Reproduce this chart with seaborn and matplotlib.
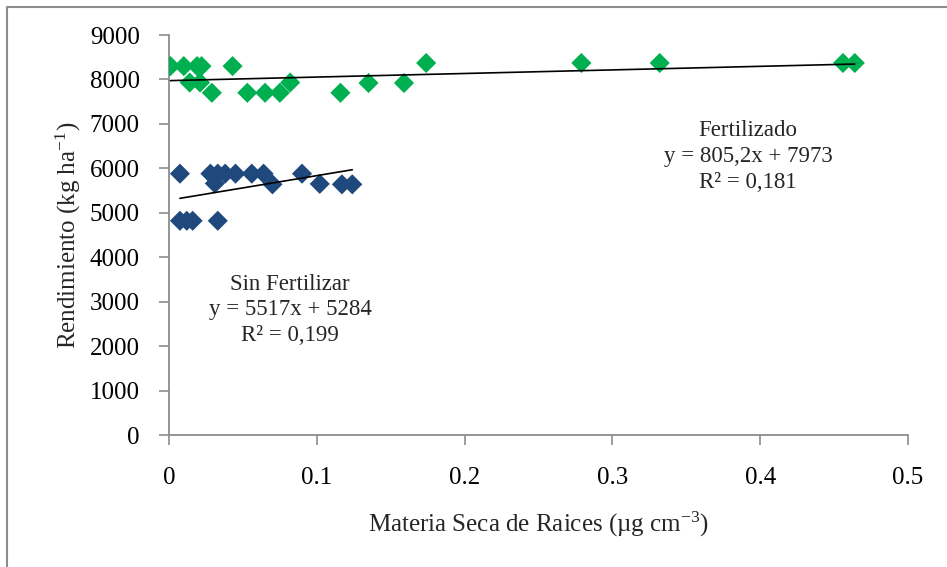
import numpy as np
import pandas as pd
import matplotlib
matplotlib.use("Agg")
import matplotlib.pyplot as plt
from matplotlib.lines import Line2D
import seaborn as sns

# Fertilized plots: root dry matter (µg cm-3) vs. yield (kg/ha)
fert_x = [0.001, 0.010, 0.019, 0.022, 0.043, 0.014, 0.021, 0.082,
          0.029, 0.053, 0.065, 0.075, 0.116, 0.135, 0.159, 0.174,
          0.279, 0.332, 0.456, 0.464]
fert_y = [8300, 8300, 8300, 8300, 8300, 7930, 7930, 7930,
          7700, 7700, 7700, 7700, 7700, 7920, 7920, 8370,
          8370, 8370, 8370, 8370]

# Unfertilized plots
sinf_x = [0.0074, 0.028, 0.033, 0.038, 0.045, 0.056, 0.064, 0.090,
          0.031, 0.070, 0.102, 0.117, 0.124,
          0.0074, 0.012, 0.016, 0.033]
sinf_y = [5880, 5880, 5880, 5880, 5880, 5880, 5880, 5880,
          5660, 5640, 5650, 5640, 5640,
          4820, 4820, 4820, 4820]

# Linear fits (slope, intercept)
fert_fit = (805.2, 7973)
sinf_fit = (5517, 5284)

groups = ["Fertilizado", "Sin Fertilizar"]
colors = {"Fertilizado": "#00B050", "Sin Fertilizar": "#1F497D"}

x_ticks = [0, 0.1, 0.2, 0.3, 0.4, 0.5]
y_ticks = [0, 1000, 2000, 3000, 4000, 5000, 6000, 7000, 8000, 9000]

df = pd.DataFrame({
    "x": fert_x + sinf_x,
    "y": fert_y + sinf_y,
    "grupo": [groups[0]] * len(fert_x) + [groups[1]] * len(sinf_x),
})

sns.set_style("ticks")
plt.rcParams["font.family"] = ["Liberation Serif", "DejaVu Serif"]
plt.rcParams["mathtext.fontset"] = "custom"
plt.rcParams["mathtext.rm"] = "Liberation Serif"
plt.rcParams["mathtext.it"] = "Liberation Serif"

fig = plt.figure(figsize=(9.47, 5.67), dpi=100)
ax = fig.add_axes([169 / 947, 1 - 435 / 567, (908 - 169) / 947, (435 - 35) / 567])

sns.scatterplot(data=df, x="x", y="y", hue="grupo", palette=colors,
                marker="D", s=105, linewidth=0, legend=False, ax=ax, zorder=3)

# Trend lines over each group's data range
for xs, (m, b) in ((fert_x, fert_fit), (sinf_x, sinf_fit)):
    xx = np.array([min(xs), max(xs)])
    ax.plot(xx, m * xx + b, color="black", lw=1.2, zorder=4)

ax.set_xlim(0, 0.5)
ax.set_ylim(0, 9000)
ax.set_xticks(x_ticks)
ax.set_xticklabels([f"{t:g}" for t in x_ticks])
ax.set_yticks(y_ticks)

gray = "#8c8c8c"
for side in ("top", "right"):
    ax.spines[side].set_visible(False)
for side in ("left", "bottom"):
    ax.spines[side].set_color(gray)
    ax.spines[side].set_linewidth(1.3)
ax.tick_params(axis="both", colors=gray, labelcolor="black", length=7,
               width=1.2, labelsize=18, direction="out")
ax.tick_params(axis="x", pad=16)
ax.tick_params(axis="y", pad=14)

ax.set_xlabel("Materia Seca de Raices (µg cm$^{-3}$)", fontsize=18, labelpad=15)
ax.set_ylabel("Rendimiento (kg ha$^{-1}$)", fontsize=18, labelpad=5)

ax.text(0.3917, 6261, "Fertilizado\ny = 805,2x + 7973\nR² = 0,181",
        ha="center", va="center", multialignment="center",
        fontsize=16.5, linespacing=1.3)
ax.text(0.0819, 2815, "Sin Fertilizar\ny = 5517x + 5284\nR² = 0,199",
        ha="center", va="center", multialignment="center",
        fontsize=16.5, linespacing=1.3)

# Outer frame of the chart area
fx = 6.5 / 947
fy = 1 - 6.5 / 567
fig.add_artist(Line2D([fx, fx, 1.0], [0.0, fy, fy], transform=fig.transFigure,
                      color=gray, lw=1.5))

fig.savefig("out.png", dpi=100)
